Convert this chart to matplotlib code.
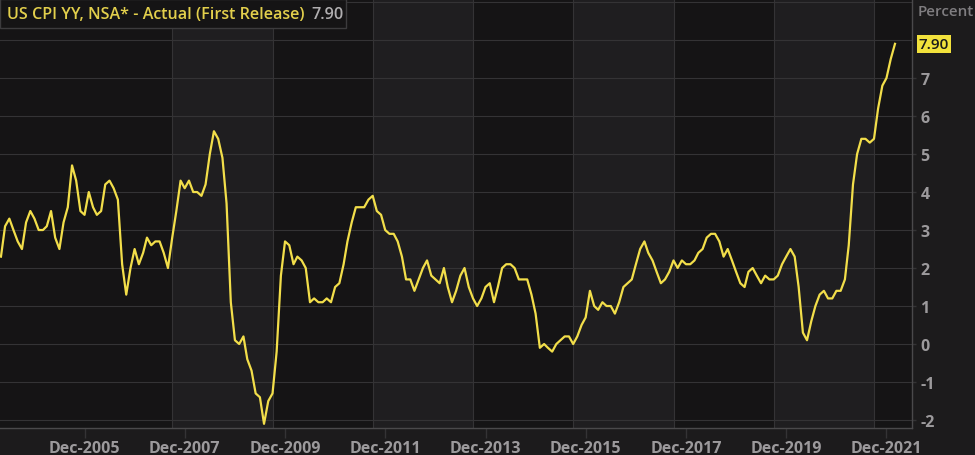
import matplotlib
matplotlib.use("Agg")
import matplotlib.pyplot as plt
import matplotlib.dates as mdates
import matplotlib.patches as patches
from matplotlib.ticker import FuncFormatter
import pandas as pd
import numpy as np

# CPI YoY (%), monthly from Apr-2004 to Feb-2022
cpi = [
    2.3, 3.1, 3.3, 3.0, 2.7, 2.5, 3.2, 3.5, 3.3,                      # 2004 Apr-Dec
    3.0, 3.0, 3.1, 3.5, 2.8, 2.5, 3.2, 3.6, 4.7, 4.3, 3.5, 3.4,       # 2005
    4.0, 3.6, 3.4, 3.5, 4.2, 4.3, 4.1, 3.8, 2.1, 1.3, 2.0, 2.5,       # 2006
    2.1, 2.4, 2.8, 2.6, 2.7, 2.7, 2.4, 2.0, 2.8, 3.5, 4.3, 4.1,       # 2007
    4.3, 4.0, 4.0, 3.9, 4.2, 5.0, 5.6, 5.4, 4.9, 3.7, 1.1, 0.1,       # 2008
    0.0, 0.2, -0.4, -0.7, -1.3, -1.4, -2.1, -1.5, -1.3, -0.2, 1.8, 2.7,  # 2009
    2.6, 2.1, 2.3, 2.2, 2.0, 1.1, 1.2, 1.1, 1.1, 1.2, 1.1, 1.5,       # 2010
    1.6, 2.1, 2.7, 3.2, 3.6, 3.6, 3.6, 3.8, 3.9, 3.5, 3.4, 3.0,       # 2011
    2.9, 2.9, 2.7, 2.3, 1.7, 1.7, 1.4, 1.7, 2.0, 2.2, 1.8, 1.7,       # 2012
    1.6, 2.0, 1.5, 1.1, 1.4, 1.8, 2.0, 1.5, 1.2, 1.0, 1.2, 1.5,       # 2013
    1.6, 1.1, 1.5, 2.0, 2.1, 2.1, 2.0, 1.7, 1.7, 1.7, 1.3, 0.8,       # 2014
    -0.1, 0.0, -0.1, -0.2, 0.0, 0.1, 0.2, 0.2, 0.0, 0.2, 0.5, 0.7,    # 2015
    1.4, 1.0, 0.9, 1.1, 1.0, 1.0, 0.8, 1.1, 1.5, 1.6, 1.7, 2.1,       # 2016
    2.5, 2.7, 2.4, 2.2, 1.9, 1.6, 1.7, 1.9, 2.2, 2.0, 2.2, 2.1,       # 2017
    2.1, 2.2, 2.4, 2.5, 2.8, 2.9, 2.9, 2.7, 2.3, 2.5, 2.2, 1.9,       # 2018
    1.6, 1.5, 1.9, 2.0, 1.8, 1.6, 1.8, 1.7, 1.7, 1.8, 2.1, 2.3,       # 2019
    2.5, 2.3, 1.5, 0.3, 0.1, 0.6, 1.0, 1.3, 1.4, 1.2, 1.2, 1.4,       # 2020
    1.4, 1.7, 2.6, 4.2, 5.0, 5.4, 5.4, 5.3, 5.4, 6.2, 6.8, 7.0,       # 2021
    7.5, 7.9,                                                         # 2022
]
dates = pd.date_range("2004-04-01", periods=len(cpi), freq="MS")

tick_years = [2005, 2007, 2009, 2011, 2013, 2015, 2017, 2019, 2021]
band_starts = ["2007-09-01", "2011-09-01", "2015-09-01", "2019-09-01"]
band_edges = ["2007-09-01", "2009-09-01", "2011-09-01", "2013-09-01",
              "2015-09-01", "2017-09-01", "2019-09-01", "2021-09-01"]
y_ticks = [-2, -1, 0, 1, 2, 3, 4, 5, 6, 7]
last_value = "7.90"
title = "US CPI YY, NSA* - Actual (First Release)"

W, H = 975, 456
bg = "#1c1b1c"
plot_bg = "#151415"
band_col = "#1f1e20"
grid_col = "#343335"
txt_col = "#9c9a9c"
line_col = "#f2de4a"

plt.rcParams['font.family'] = ['Open Sans', 'DejaVu Sans']

fig = plt.figure(figsize=(W / 100, H / 100), dpi=100, facecolor=bg)
ax = fig.add_axes([0, 27 / H, 912 / W, 1 - 27 / H])
ax.set_facecolor(plot_bg)

for s in band_starts:
    start = pd.Timestamp(s)
    ax.axvspan(start, start + pd.DateOffset(years=2), color=band_col, lw=0, zorder=0)
for e in band_edges:
    ax.axvline(pd.Timestamp(e), color=grid_col, lw=0.8, zorder=1)

for y in range(-2, 10):
    ax.axhline(y, color=grid_col, lw=0.8, zorder=1)

ax.plot(dates, cpi, color=line_col, lw=1.6, zorder=3)

ax.set_xlim(pd.Timestamp("2004-03-25"), pd.Timestamp("2022-06-05"))
ax.set_ylim(-2.21, 9.08)

ax.set_xticks([pd.Timestamp(f"{y}-12-01") for y in tick_years])
ax.xaxis.set_major_formatter(mdates.DateFormatter("%b-%Y"))
ax.yaxis.tick_right()
ax.set_yticks(y_ticks)
ax.yaxis.set_major_formatter(FuncFormatter(lambda v, p: f"{int(v)}".replace("\u2212", "-")))
ax.tick_params(axis="x", colors=grid_col, length=7, width=1, labelcolor=txt_col,
               labelsize=11.5, pad=2)
ax.tick_params(axis="y", colors=grid_col, length=3, width=1, labelcolor=txt_col,
               labelsize=11.5, pad=3)
for lab in ax.get_xticklabels() + ax.get_yticklabels():
    lab.set_fontweight("bold")

for side in ["top", "left"]:
    ax.spines[side].set_visible(False)
for side in ["bottom", "right"]:
    ax.spines[side].set_color("#4a494b")
    ax.spines[side].set_linewidth(1)

# title box
fig.patches.append(patches.Rectangle((0, 1 - 29 / H), 346 / W, 29 / H,
                                     transform=fig.transFigure, facecolor="#151415",
                                     edgecolor="#3c3b3d", lw=1, zorder=5))
fig.text(7 / W, 1 - 15 / H, title, color="#e2cf4c", fontsize=11.6,
         fontweight="semibold", va="center", ha="left", zorder=6)
fig.text(311 / W, 1 - 15 / H, last_value, color="#b0aeb0", fontsize=11.6,
         fontweight="semibold", va="center", ha="left", zorder=6)

# right-side annotations
fig.text(918 / W, 1 - 12 / H, "Percent", color="#7f7d80", fontsize=11,
         fontweight="semibold", va="center", ha="left")
ax.text(1.007, cpi[-1], last_value, transform=ax.get_yaxis_transform(),
        color="#1a1a1a", fontsize=11, fontweight="semibold", va="center", ha="left",
        bbox=dict(boxstyle="square,pad=0.12", facecolor="#f2e23c", edgecolor="none"),
        clip_on=False, zorder=6)

fig.savefig("out.png", dpi=100, facecolor=bg)
